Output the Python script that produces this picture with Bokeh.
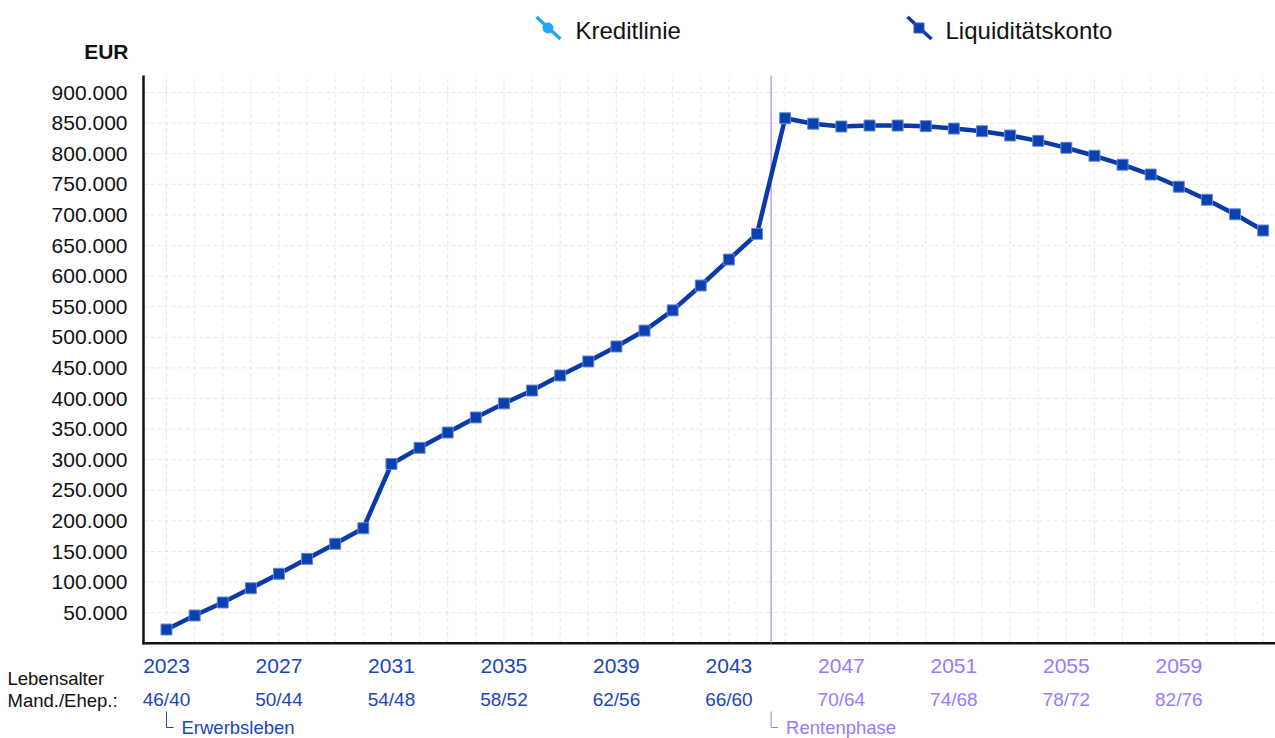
from bokeh.plotting import figure
from bokeh.models import Range1d
from bokeh.core.properties import value
from bokeh.embed import file_html
from bokeh.resources import INLINE

# ---------------- data ----------------
years = list(range(2023, 2063))
liquiditaetskonto = [
    22500, 45400, 66700, 90000, 113600, 138000, 162600, 188000, 293000, 319400,
    344400, 369000, 392000, 413000, 437600, 460500, 485000, 511000, 544000, 584600,
    627000, 669000, 858000, 849000, 844400, 846000, 846000, 845000, 841000, 836800,
    829700, 821000, 809600, 796600, 782000, 766000, 746000, 724700, 701000, 674500,
]
kreditlinie = []  # no visible values in the chart
tick_years = [2023, 2027, 2031, 2035, 2039, 2043, 2047, 2051, 2055, 2059]
age_labels = ["46/40", "50/44", "54/48", "58/52", "62/56", "66/60", "70/64", "74/68", "78/72", "82/76"]
y_ticks = list(range(50000, 900001, 50000))
y_tick_labels = [f"{v:,}".replace(",", ".") for v in y_ticks]
retirement_year = 2044.5
phase_labels = ["Erwerbsleben", "Rentenphase"]
phase_starts = [2023, retirement_year]
legend_labels = ["Kreditlinie", "Liquiditätskonto"]
unit_label = "EUR"
age_title = ["Lebensalter", "Mand./Ehep.:"]

# ---------------- styling / layout ----------------
FONT = "Liberation Sans"
BLUE = "#0a3aa8"
MARK = "#0b40b0"
TXT_BLUE = "#1a46b8"
PURPLE = "#9a78ff"
LIGHT = "#22a7f0"
INK = "#111111"
W, H = 1275, 738
PX_PER_YEAR = 28.12
PX_PER_50K = 30.6
ZERO_PY = 642.8        # page y of value 0
FIRST_PX = 166         # page x of 2023


def yr(px):   # page x -> year coordinate
    return 2023 + (px - FIRST_PX) / PX_PER_YEAR


def val(py):  # page y -> value coordinate
    return (ZERO_PY - py) * 50000 / PX_PER_50K


p = figure(width=W, height=H, x_range=Range1d(yr(0), yr(W)), y_range=Range1d(val(H), val(0)),
           x_axis_type=None, y_axis_type=None, output_backend="svg", toolbar_location=None,
           min_border=0, min_border_left=0, min_border_right=0, min_border_top=0, min_border_bottom=0)
p.outline_line_color = None
p.grid.visible = False
p.background_fill_color = "white"
p.border_fill_color = "white"

AX_X = yr(143)
TOP_V = val(75)

# grid (dashed, light)
p.segment(x0=[AX_X] * len(y_ticks), y0=y_ticks, x1=[yr(W)] * len(y_ticks), y1=y_ticks,
          line_color="#e6e6e6", line_width=1, line_dash="4 3")
p.segment(x0=years, y0=[0] * len(years), x1=years, y1=[TOP_V] * len(years),
          line_color="#e6e6e6", line_width=1, line_dash="4 3")

# axis lines
p.segment(x0=[AX_X, yr(142)], y0=[val(644), 0], x1=[AX_X, yr(W)], y1=[TOP_V, 0],
          line_color=INK, line_width=2.5)

# y tick labels + unit
p.text(x=[yr(127)] * len(y_ticks), y=y_ticks, text=y_tick_labels, text_align="right",
       text_baseline="middle", text_font=value(FONT), text_font_size="21px", text_color=INK)
p.text(x=[yr(128)], y=[val(51)], text=[unit_label], text_align="right", text_baseline="middle",
       text_font=value(FONT), text_font_size="21px", text_font_style="bold", text_color=INK)

# retirement marker line
p.segment(x0=[retirement_year], y0=[0], x1=[retirement_year], y1=[TOP_V], line_color="#9966ff", line_width=1)

# series
p.line(years, liquiditaetskonto, line_width=4.5, line_color=BLUE)
p.scatter(years, liquiditaetskonto, marker="square", size=11, fill_color=MARK,
          line_color="#6a8ad4", line_width=1)

# legend
icon_x = [536, 907]
text_x = [575, 945]
p.segment(x0=[yr(x) for x in icon_x], y0=[val(16.5)] * 2, x1=[yr(x + 24) for x in icon_x], y1=[val(38.5)] * 2,
          line_color=[LIGHT, BLUE], line_width=3.5)
p.scatter(x=[yr(icon_x[0] + 11.5)], y=[val(27.5)], marker="circle", size=10, fill_color=LIGHT, line_color=LIGHT)
p.scatter(x=[yr(icon_x[1] + 11.5)], y=[val(27.5)], marker="square", size=10, fill_color=MARK, line_color="#3a62c4")
p.text(x=[yr(x) for x in text_x], y=[val(30)] * 2, text=legend_labels, text_align="left", text_baseline="middle",
       text_font=value(FONT), text_font_size="24px", text_color=INK)

# x tick labels: years and ages
tick_cols = [TXT_BLUE if y < retirement_year else PURPLE for y in tick_years]
p.text(x=tick_years, y=[val(665)] * len(tick_years), text=[str(y) for y in tick_years],
       text_align="center", text_baseline="middle", text_font=value(FONT), text_font_size="21px",
       text_color=tick_cols)
p.text(x=tick_years, y=[val(699)] * len(tick_years), text=age_labels,
       text_align="center", text_baseline="middle", text_font=value(FONT), text_font_size="19px",
       text_color=tick_cols)
p.text(x=[yr(7)] * 2, y=[val(678), val(700)], text=age_title, text_align="left", text_baseline="middle",
       text_font=value(FONT), text_font_size="18.5px", text_color=INK)

# phase brackets
phase_cols = [TXT_BLUE if s < retirement_year else PURPLE for s in phase_starts]
ya, yb = val(711), val(727)
p.segment(x0=phase_starts, y0=[ya] * 2, x1=phase_starts, y1=[yb] * 2, line_color=phase_cols, line_width=1)
p.segment(x0=phase_starts, y0=[yb] * 2, x1=[s + 7 / PX_PER_YEAR for s in phase_starts], y1=[yb] * 2,
          line_color=phase_cols, line_width=1)
p.text(x=[s + 15 / PX_PER_YEAR for s in phase_starts], y=[yb] * 2, text=phase_labels,
       text_align="left", text_baseline="middle", text_font=value(FONT), text_font_size="18.5px",
       text_color=phase_cols)

open("out.html", "w").write(file_html(p, INLINE))
